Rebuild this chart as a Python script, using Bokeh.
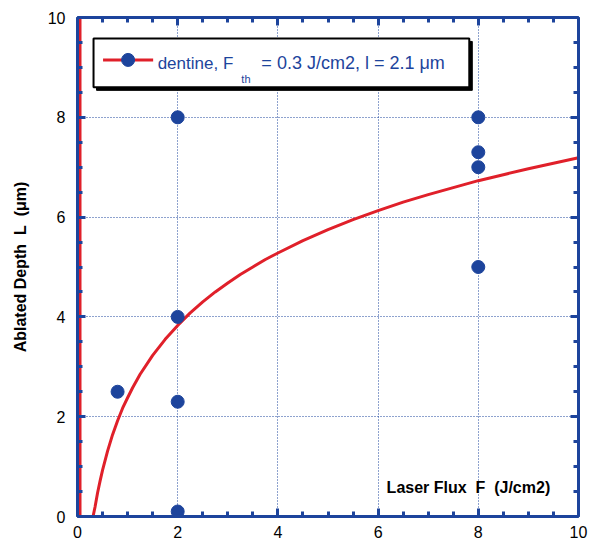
from bokeh.plotting import figure
from bokeh.models import FixedTicker, LinearAxis, Label, Range1d, CustomLabelingPolicy
from bokeh.embed import file_html
from bokeh.resources import INLINE

# ---- data ----
flux_pts = [0.8, 2, 2, 2, 2, 8, 8, 8, 8]
depth_pts = [2.5, 8.0, 4.0, 2.3, 0.1, 8.0, 7.3, 7.0, 5.0]

fit_flux = [0.31, 0.35, 0.4, 0.45, 0.5, 0.6, 0.7, 0.8, 0.9, 1.0, 1.1, 1.25, 1.5, 1.75, 2.0,
            2.25, 2.5, 2.75, 3.0, 3.25, 3.5, 3.75, 4.0, 4.5, 5.0, 5.5, 6.0, 6.5, 7.0, 7.5,
            8.0, 8.5, 9.0, 9.5, 10.0]
fit_depth = [0.0, 0.19, 0.47, 0.71, 0.93, 1.31, 1.64, 1.92, 2.17, 2.38, 2.58, 2.85, 3.23,
             3.55, 3.83, 4.08, 4.30, 4.50, 4.68, 4.85, 5.00, 5.15, 5.28, 5.53, 5.75, 5.95,
             6.13, 6.30, 6.45, 6.59, 6.73, 6.85, 6.97, 7.08, 7.19]

edge_flux = [0.05, 0.05]
edge_depth = [0.0, 10.0]

major_ticks = [0, 2, 4, 6, 8, 10]
minor_ticks = [i * 0.5 for i in range(21)]

BLUE = "#1d449c"
RED = "#e0202a"
FONT = "Liberation Sans"
NB = "\u00a0"

p = figure(output_backend="svg", toolbar_location=None,
           x_range=Range1d(0, 10), y_range=Range1d(0, 10),
           frame_width=501, frame_height=499,
           min_border_left=77, min_border_right=15, min_border_top=17, min_border_bottom=26,
           x_axis_location=None, y_axis_location=None)
p.outline_line_color = None
p.background_fill_color = "white"
p.border_fill_color = "white"


def make_axis(show_labels):
    ax = LinearAxis(ticker=FixedTicker(ticks=major_ticks, minor_ticks=minor_ticks))
    ax.axis_line_color = BLUE
    ax.axis_line_width = 3
    ax.major_tick_line_color = BLUE
    ax.major_tick_line_width = 3
    ax.minor_tick_line_color = BLUE
    ax.minor_tick_line_width = 3
    ax.major_tick_in = 8
    ax.major_tick_out = 0
    ax.minor_tick_in = 5
    ax.minor_tick_out = 0
    if show_labels:
        ax.major_label_text_font = FONT
        ax.major_label_text_font_size = "16px"
        ax.major_label_text_color = "black"
    else:
        ax.major_label_policy = CustomLabelingPolicy(code="return []")
        ax.major_label_standoff = 0
    return ax


bottom = make_axis(True)
bottom.major_label_standoff = 9
left = make_axis(True)
left.major_label_standoff = 12
left.axis_label = f"Ablated Depth{NB}{NB}L{NB}{NB}(\u03bcm)"
left.axis_label_text_font = FONT
left.axis_label_text_font_size = "16px"
left.axis_label_text_font_style = "bold"
left.axis_label_text_color = "black"
left.axis_label_standoff = 16
right = make_axis(False)
top = make_axis(False)

p.add_layout(bottom, "below")
p.add_layout(left, "left")
p.add_layout(right, "right")
p.add_layout(top, "above")

for g in (p.xgrid, p.ygrid):
    g.ticker = FixedTicker(ticks=major_ticks)
    g.grid_line_color = BLUE
    g.grid_line_dash = "1 2"
    g.grid_line_width = 1

# data
p.line(edge_flux, edge_depth, line_color=RED, line_width=3)
p.line(fit_flux, fit_depth, line_color=RED, line_width=3, line_join="round")
p.scatter(flux_pts, depth_pts, size=13, fill_color=BLUE, line_color=BLUE)

# manual legend box (with drop shadow)
p.quad(left=[0.38], right=[7.88], top=[9.52], bottom=[8.54],
       fill_color="black", line_color="black")
p.quad(left=[0.32], right=[7.82], top=[9.58], bottom=[8.60],
       fill_color="white", line_color="black", line_width=2)
p.line([0.51, 1.51], [9.15, 9.15], line_color=RED, line_width=3)
p.scatter([1.01], [9.15], size=13, fill_color=BLUE, line_color=BLUE)

p.add_layout(Label(x=1.6, y=9.084, text="dentine, F", text_font=FONT, text_font_size="17px",
                   text_color=BLUE, text_baseline="alphabetic"))
p.add_layout(Label(x=3.27, y=8.763, text="th", text_font=FONT, text_font_size="11px",
                   text_color=BLUE, text_baseline="alphabetic"))
p.add_layout(Label(x=3.67, y=9.084, text="= 0.3 J/cm2, l = 2.1 \u03bcm", text_font=FONT,
                   text_font_size="18px", text_color=BLUE, text_baseline="alphabetic"))

p.add_layout(Label(x=6.17, y=0.587, text=f"Laser Flux{NB}{NB}F{NB}{NB}(J/cm2)", text_font=FONT,
                   text_font_size="16px", text_font_style="bold", text_color="black",
                   text_baseline="alphabetic"))

open("out.html", "w").write(file_html(p, INLINE))
